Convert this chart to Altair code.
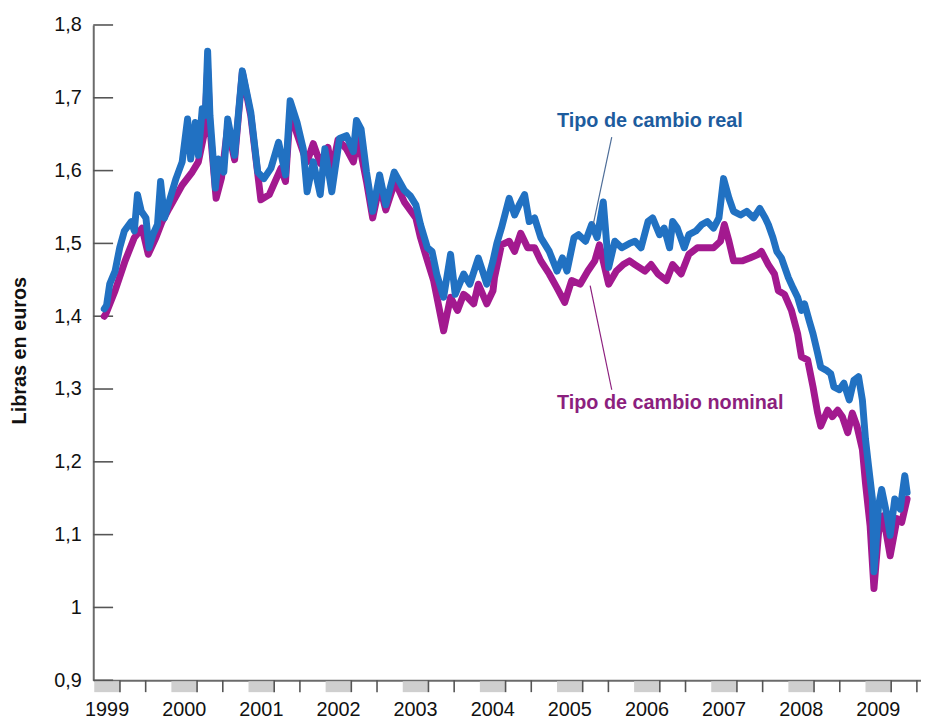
import altair as alt
import pandas as pd

# ---------------- data ----------------
years = list(range(1999, 2010))
y_ticks = [0.9, 1.0, 1.1, 1.2, 1.3, 1.4, 1.5, 1.6, 1.7, 1.8]

# (fractional year, libras en euros)
real_series = [
    [1999.13, 1.410], [1999.16, 1.415], [1999.20, 1.444], [1999.27, 1.462], [1999.33, 1.494],
    [1999.39, 1.517], [1999.48, 1.530], [1999.52, 1.517], [1999.56, 1.567], [1999.61, 1.544],
    [1999.67, 1.535], [1999.71, 1.494], [1999.76, 1.512], [1999.82, 1.526], [1999.86, 1.585],
    [1999.91, 1.535], [1999.97, 1.557], [2000.06, 1.589], [2000.14, 1.612], [2000.21, 1.671],
    [2000.25, 1.616], [2000.31, 1.666], [2000.35, 1.621], [2000.40, 1.685], [2000.44, 1.676],
    [2000.47, 1.764], [2000.50, 1.676], [2000.57, 1.576], [2000.61, 1.616], [2000.68, 1.598],
    [2000.73, 1.671], [2000.82, 1.621], [2000.92, 1.737], [2001.03, 1.680], [2001.12, 1.598],
    [2001.20, 1.589], [2001.29, 1.603], [2001.39, 1.639], [2001.48, 1.594], [2001.54, 1.696],
    [2001.63, 1.666], [2001.71, 1.630], [2001.76, 1.571], [2001.84, 1.612], [2001.93, 1.567],
    [2001.99, 1.630], [2002.08, 1.571], [2002.18, 1.644], [2002.27, 1.648], [2002.36, 1.626],
    [2002.40, 1.669], [2002.46, 1.657], [2002.53, 1.598], [2002.61, 1.544], [2002.70, 1.594],
    [2002.78, 1.553], [2002.89, 1.598], [2003.02, 1.573], [2003.10, 1.565], [2003.17, 1.553],
    [2003.23, 1.526], [2003.32, 1.494], [2003.38, 1.489], [2003.44, 1.458], [2003.53, 1.426],
    [2003.62, 1.485], [2003.68, 1.430], [2003.79, 1.458], [2003.87, 1.444], [2003.98, 1.480],
    [2004.09, 1.444], [2004.17, 1.476], [2004.22, 1.500], [2004.28, 1.521], [2004.38, 1.562],
    [2004.45, 1.539], [2004.51, 1.553], [2004.58, 1.567], [2004.64, 1.530], [2004.71, 1.535],
    [2004.79, 1.508], [2004.90, 1.489], [2005.00, 1.462], [2005.07, 1.480], [2005.13, 1.462],
    [2005.22, 1.508], [2005.28, 1.512], [2005.37, 1.503], [2005.45, 1.526], [2005.52, 1.508],
    [2005.60, 1.557], [2005.67, 1.467], [2005.75, 1.503], [2005.84, 1.494], [2005.94, 1.500],
    [2006.01, 1.503], [2006.09, 1.494], [2006.18, 1.530], [2006.24, 1.535], [2006.33, 1.512],
    [2006.39, 1.521], [2006.46, 1.494], [2006.50, 1.530], [2006.56, 1.521], [2006.65, 1.494],
    [2006.71, 1.512], [2006.80, 1.517], [2006.88, 1.526], [2006.95, 1.530], [2007.03, 1.521],
    [2007.10, 1.535], [2007.16, 1.589], [2007.23, 1.562], [2007.29, 1.544], [2007.38, 1.539],
    [2007.46, 1.544], [2007.55, 1.535], [2007.63, 1.548], [2007.70, 1.535], [2007.74, 1.526],
    [2007.80, 1.508], [2007.85, 1.489], [2007.91, 1.480], [2008.00, 1.453], [2008.06, 1.439],
    [2008.12, 1.426], [2008.17, 1.408], [2008.21, 1.417], [2008.27, 1.394], [2008.32, 1.376],
    [2008.38, 1.349], [2008.42, 1.330], [2008.49, 1.326], [2008.55, 1.321], [2008.59, 1.303],
    [2008.66, 1.299], [2008.72, 1.308], [2008.79, 1.285], [2008.85, 1.312], [2008.91, 1.317],
    [2008.96, 1.285], [2009.00, 1.231], [2009.04, 1.194], [2009.09, 1.149], [2009.11, 1.049],
    [2009.13, 1.076], [2009.17, 1.140], [2009.21, 1.162], [2009.28, 1.126], [2009.32, 1.099],
    [2009.38, 1.149], [2009.45, 1.135], [2009.51, 1.181], [2009.54, 1.158],
]

nominal_series = [
    [1999.13, 1.400], [1999.15, 1.403], [1999.27, 1.435], [1999.40, 1.476], [1999.52, 1.508],
    [1999.62, 1.521], [1999.70, 1.485], [1999.80, 1.508], [1999.88, 1.530], [1999.97, 1.548],
    [2000.14, 1.580], [2000.27, 1.598], [2000.35, 1.612], [2000.43, 1.653], [2000.47, 1.740],
    [2000.50, 1.660], [2000.58, 1.562], [2000.65, 1.590], [2000.73, 1.660], [2000.82, 1.615],
    [2000.92, 1.735], [2001.03, 1.675], [2001.16, 1.560], [2001.27, 1.567], [2001.42, 1.603],
    [2001.48, 1.585], [2001.54, 1.680], [2001.63, 1.650], [2001.71, 1.625], [2001.76, 1.612],
    [2001.84, 1.637], [2001.93, 1.610], [2002.03, 1.632], [2002.08, 1.600], [2002.16, 1.642],
    [2002.27, 1.630], [2002.36, 1.612], [2002.42, 1.645], [2002.53, 1.585], [2002.61, 1.535],
    [2002.70, 1.580], [2002.78, 1.546], [2002.90, 1.585], [2003.02, 1.557], [2003.17, 1.535],
    [2003.23, 1.508], [2003.32, 1.476], [2003.40, 1.449], [2003.53, 1.380], [2003.62, 1.426],
    [2003.71, 1.408], [2003.79, 1.430], [2003.84, 1.426], [2003.92, 1.417], [2003.98, 1.444],
    [2004.09, 1.417], [2004.17, 1.435], [2004.19, 1.453], [2004.28, 1.498], [2004.38, 1.503],
    [2004.45, 1.489], [2004.53, 1.514], [2004.62, 1.494], [2004.71, 1.494], [2004.79, 1.476],
    [2004.90, 1.458], [2005.00, 1.439], [2005.10, 1.419], [2005.19, 1.449], [2005.30, 1.444],
    [2005.40, 1.462], [2005.49, 1.476], [2005.55, 1.498], [2005.67, 1.444], [2005.77, 1.462],
    [2005.86, 1.471], [2005.94, 1.476], [2006.01, 1.471], [2006.14, 1.462], [2006.22, 1.471],
    [2006.31, 1.458], [2006.42, 1.449], [2006.50, 1.471], [2006.61, 1.458], [2006.71, 1.485],
    [2006.82, 1.494], [2006.92, 1.494], [2007.03, 1.494], [2007.12, 1.503], [2007.17, 1.526],
    [2007.23, 1.503], [2007.29, 1.476], [2007.40, 1.476], [2007.50, 1.480], [2007.61, 1.485],
    [2007.65, 1.489], [2007.74, 1.471], [2007.82, 1.458], [2007.87, 1.435], [2007.95, 1.430],
    [2008.04, 1.408], [2008.12, 1.376], [2008.17, 1.344], [2008.25, 1.340], [2008.32, 1.303],
    [2008.38, 1.267], [2008.42, 1.249], [2008.51, 1.271], [2008.57, 1.262], [2008.64, 1.271],
    [2008.70, 1.262], [2008.77, 1.240], [2008.83, 1.267], [2008.89, 1.249], [2008.96, 1.217],
    [2009.00, 1.171], [2009.06, 1.112], [2009.11, 1.026], [2009.17, 1.103], [2009.23, 1.126],
    [2009.32, 1.071], [2009.41, 1.122], [2009.47, 1.117], [2009.54, 1.149],
]

label_texts = ["Tipo de cambio real", "Tipo de cambio nominal"]
label_x = [2005.00, 2005.00]
label_y = [1.660, 1.272]
label_colors = ["#1d5c9e", "#8c1f7e"]

leader_x1 = [2005.71, 2005.71]
leader_y1 = [1.646, 1.299]
leader_x2 = [2005.47, 2005.43]
leader_y2 = [1.526, 1.442]
leader_colors = ["#4d6d98", "#8c1f7e"]

REAL_COLOR = "#2171c2"
NOM_COLOR = "#a3198f"
FONT = "Liberation Sans"

W, H = 835, 661

# ---------------- tables ----------------
real_df = pd.DataFrame(real_series, columns=["t", "v"])
nom_df = pd.DataFrame(nominal_series, columns=["t", "v"])
years_df = pd.DataFrame({"year": years})
xtick_df = pd.DataFrame({"t": [y + k / 3 for y in years for k in (1, 2)]})
ytick_df = pd.DataFrame({"v": y_ticks})
labels_df = pd.DataFrame({"text": label_texts, "x": label_x, "y": label_y, "c": label_colors})
leaders_df = pd.DataFrame({"x": leader_x1, "y": leader_y1, "x2": leader_x2, "y2": leader_y2,
                           "c": leader_colors})

x_scale = alt.Scale(domain=[1998.987, 2009.72], nice=False, zero=False)
y_scale = alt.Scale(domain=[0.9, 1.8], nice=False, zero=False)

x_axis = alt.Axis(domain=True, domainColor="#6b6b6b", domainWidth=2, ticks=False,
                  labels=False, grid=False, title="")
y_axis = alt.Axis(values=y_ticks,
                  labelExpr="abs(datum.value - 1) < 0.001 ? '1' : replace(format(datum.value, '.1f'), '.', ',')",
                  labelFont=FONT, labelFontSize=20, labelColor="#111111",
                  ticks=False, tickSize=0, labelPadding=12,
                  domainColor="#6b6b6b", domainWidth=2, grid=False,
                  title="Libras en euros", titleFont=FONT, titleFontSize=20,
                  titleFontWeight="bold", titleColor="#111111", titleAngle=270,
                  titleX=-74, titleY=328, titleAlign="center", titleBaseline="middle")


def X(field):
    return alt.X(field, scale=x_scale, axis=x_axis)


def Y(field):
    return alt.Y(field, scale=y_scale, axis=y_axis)


# gray year boxes under the axis
boxes = alt.Chart(years_df).transform_calculate(
    x2="datum.year + 1/3"
).mark_rect(color="#cfcfcf").encode(
    x=X("year:Q"),
    x2="x2:Q",
    y=alt.value(H + 1),
    y2=alt.value(H + 12),
)

xticks = alt.Chart(xtick_df).mark_rule(color="#555555", strokeWidth=1.6).encode(
    x=X("t:Q"),
    y=alt.value(H),
    y2=alt.value(H + 12),
)

year_labels = alt.Chart(years_df).transform_calculate(
    xc="datum.year + 1/6"
).mark_text(font=FONT, fontSize=20, color="#111111", baseline="alphabetic", align="center").encode(
    x=X("xc:Q"),
    y=alt.value(H + 36),
    text="year:N",
)

yticks = alt.Chart(ytick_df).mark_rule(color="#555555", strokeWidth=1.6).encode(
    y=Y("v:Q"),
    x=alt.value(0),
    x2=alt.value(20),
)

nominal_line = alt.Chart(nom_df).mark_line(
    color=NOM_COLOR, strokeWidth=7, strokeJoin="round", strokeCap="round"
).encode(x=X("t:Q"), y=Y("v:Q"))

real_line = alt.Chart(real_df).mark_line(
    color=REAL_COLOR, strokeWidth=7, strokeJoin="round", strokeCap="round"
).encode(x=X("t:Q"), y=Y("v:Q"))

leaders = alt.Chart(leaders_df).mark_rule(strokeWidth=1.2).encode(
    x=X("x:Q"),
    y=Y("y:Q"),
    x2="x2:Q",
    y2="y2:Q",
    color=alt.Color("c:N", scale=None),
)

labels = alt.Chart(labels_df).mark_text(
    font=FONT, fontSize=20, fontWeight="bold", align="left", baseline="alphabetic"
).encode(
    x=X("x:Q"),
    y=Y("y:Q"),
    text="text:N",
    color=alt.Color("c:N", scale=None),
)

chart = alt.layer(
    boxes, xticks, year_labels, yticks, nominal_line, real_line, leaders, labels
).properties(
    width=W, height=H,
    autosize=alt.AutoSizeParams(type="none"),
    padding={"left": 86, "top": 14, "right": 0, "bottom": 41},
).configure_view(stroke=None)

chart.save("out.html", embed_options={"renderer": "svg", "actions": False})
